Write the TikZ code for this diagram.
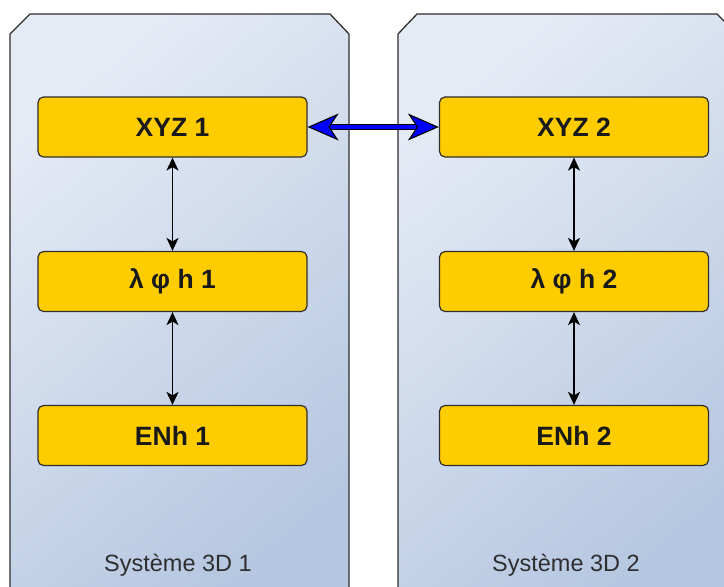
\documentclass[tikz,border=0pt]{standalone}
\usepackage{fontspec}
\setmainfont{Liberation Sans}
\usetikzlibrary{arrows.meta}
\definecolor{boxyellow}{HTML}{FFCC00}
\definecolor{edgegray}{HTML}{2E2E2E}
\definecolor{paneltop}{HTML}{E5EBF5}
\definecolor{panelbot}{HTML}{B6C7E1}
\definecolor{labelgray}{HTML}{2E2E2E}
\tikzset{
  panel/.style={draw=edgegray, line width=1.3pt, top color=paneltop, bottom color=panelbot, shading angle=40},
  coordbox/.style={draw=edgegray, fill=boxyellow, line width=1.2pt, rounded corners=5.5pt,
    minimum width=269pt, minimum height=60pt, inner sep=0pt,
    font=\fontsize{26.5}{30}\selectfont\bfseries, text=black!90},
  paneltitle/.style={font=\fontsize{23.5}{28}\selectfont, text=labelgray, inner sep=0pt},
  link/.style={black, line width=1.5pt, {Stealth[length=13pt,width=12pt,inset=3.5pt]}-{Stealth[length=13pt,width=12pt,inset=3.5pt]}},
  bigtip/.tip={Stealth[length=31pt,width=27pt,inset=9pt,color=black,fill=blue,line width=1.1pt]},
}
\begin{document}
\begin{tikzpicture}[x=1pt,y=-1pt]
  \useasboundingbox (0,0) rectangle (724,587);
  \clip (0,0) rectangle (724,587);
  % the two system panels, chamfered at the top, running off the page
  \shade[panel] (10,34) -- (30,14) -- (330,14) -- (349,34) -- (349,610) -- (10,610) -- cycle;
  \shade[panel] (398,34) -- (417,14) -- (717,14) -- (737,34) -- (737,610) -- (398,610) -- cycle;

  \node[paneltitle] (t1) at (178,565) {Système 3D 1};
  \node[paneltitle] (t2) at (566,565) {Système 3D 2};

  % coordinate representations, system 1
  \node[coordbox] (xyz1) at (172.5,127) {XYZ 1};
  \node[coordbox] (geo1) at (172.5,281.5) {λ φ h 1};
  \node[coordbox] (enh1) at (172.5,435.5) {ENh 1};
  % coordinate representations, system 2
  \node[coordbox] (xyz2) at (574,127) {XYZ 2};
  \node[coordbox] (geo2) at (574,281.5) {λ φ h 2};
  \node[coordbox] (enh2) at (574,435.5) {ENh 2};

  \draw[link] (xyz1) -- (geo1);
  \draw[link] (geo1) -- (enh1);
  \draw[link] (xyz2) -- (geo2);
  \draw[link] (geo2) -- (enh2);

  % transformation between the two systems: blue shaft outlined in black
  \draw[black, line width=5.4pt, shorten <=18pt, shorten >=18pt] (xyz1.east) -- (xyz2.west);
  \draw[blue, line width=3.2pt, bigtip-bigtip] (xyz1.east) -- (xyz2.west);
\end{tikzpicture}
\end{document}
